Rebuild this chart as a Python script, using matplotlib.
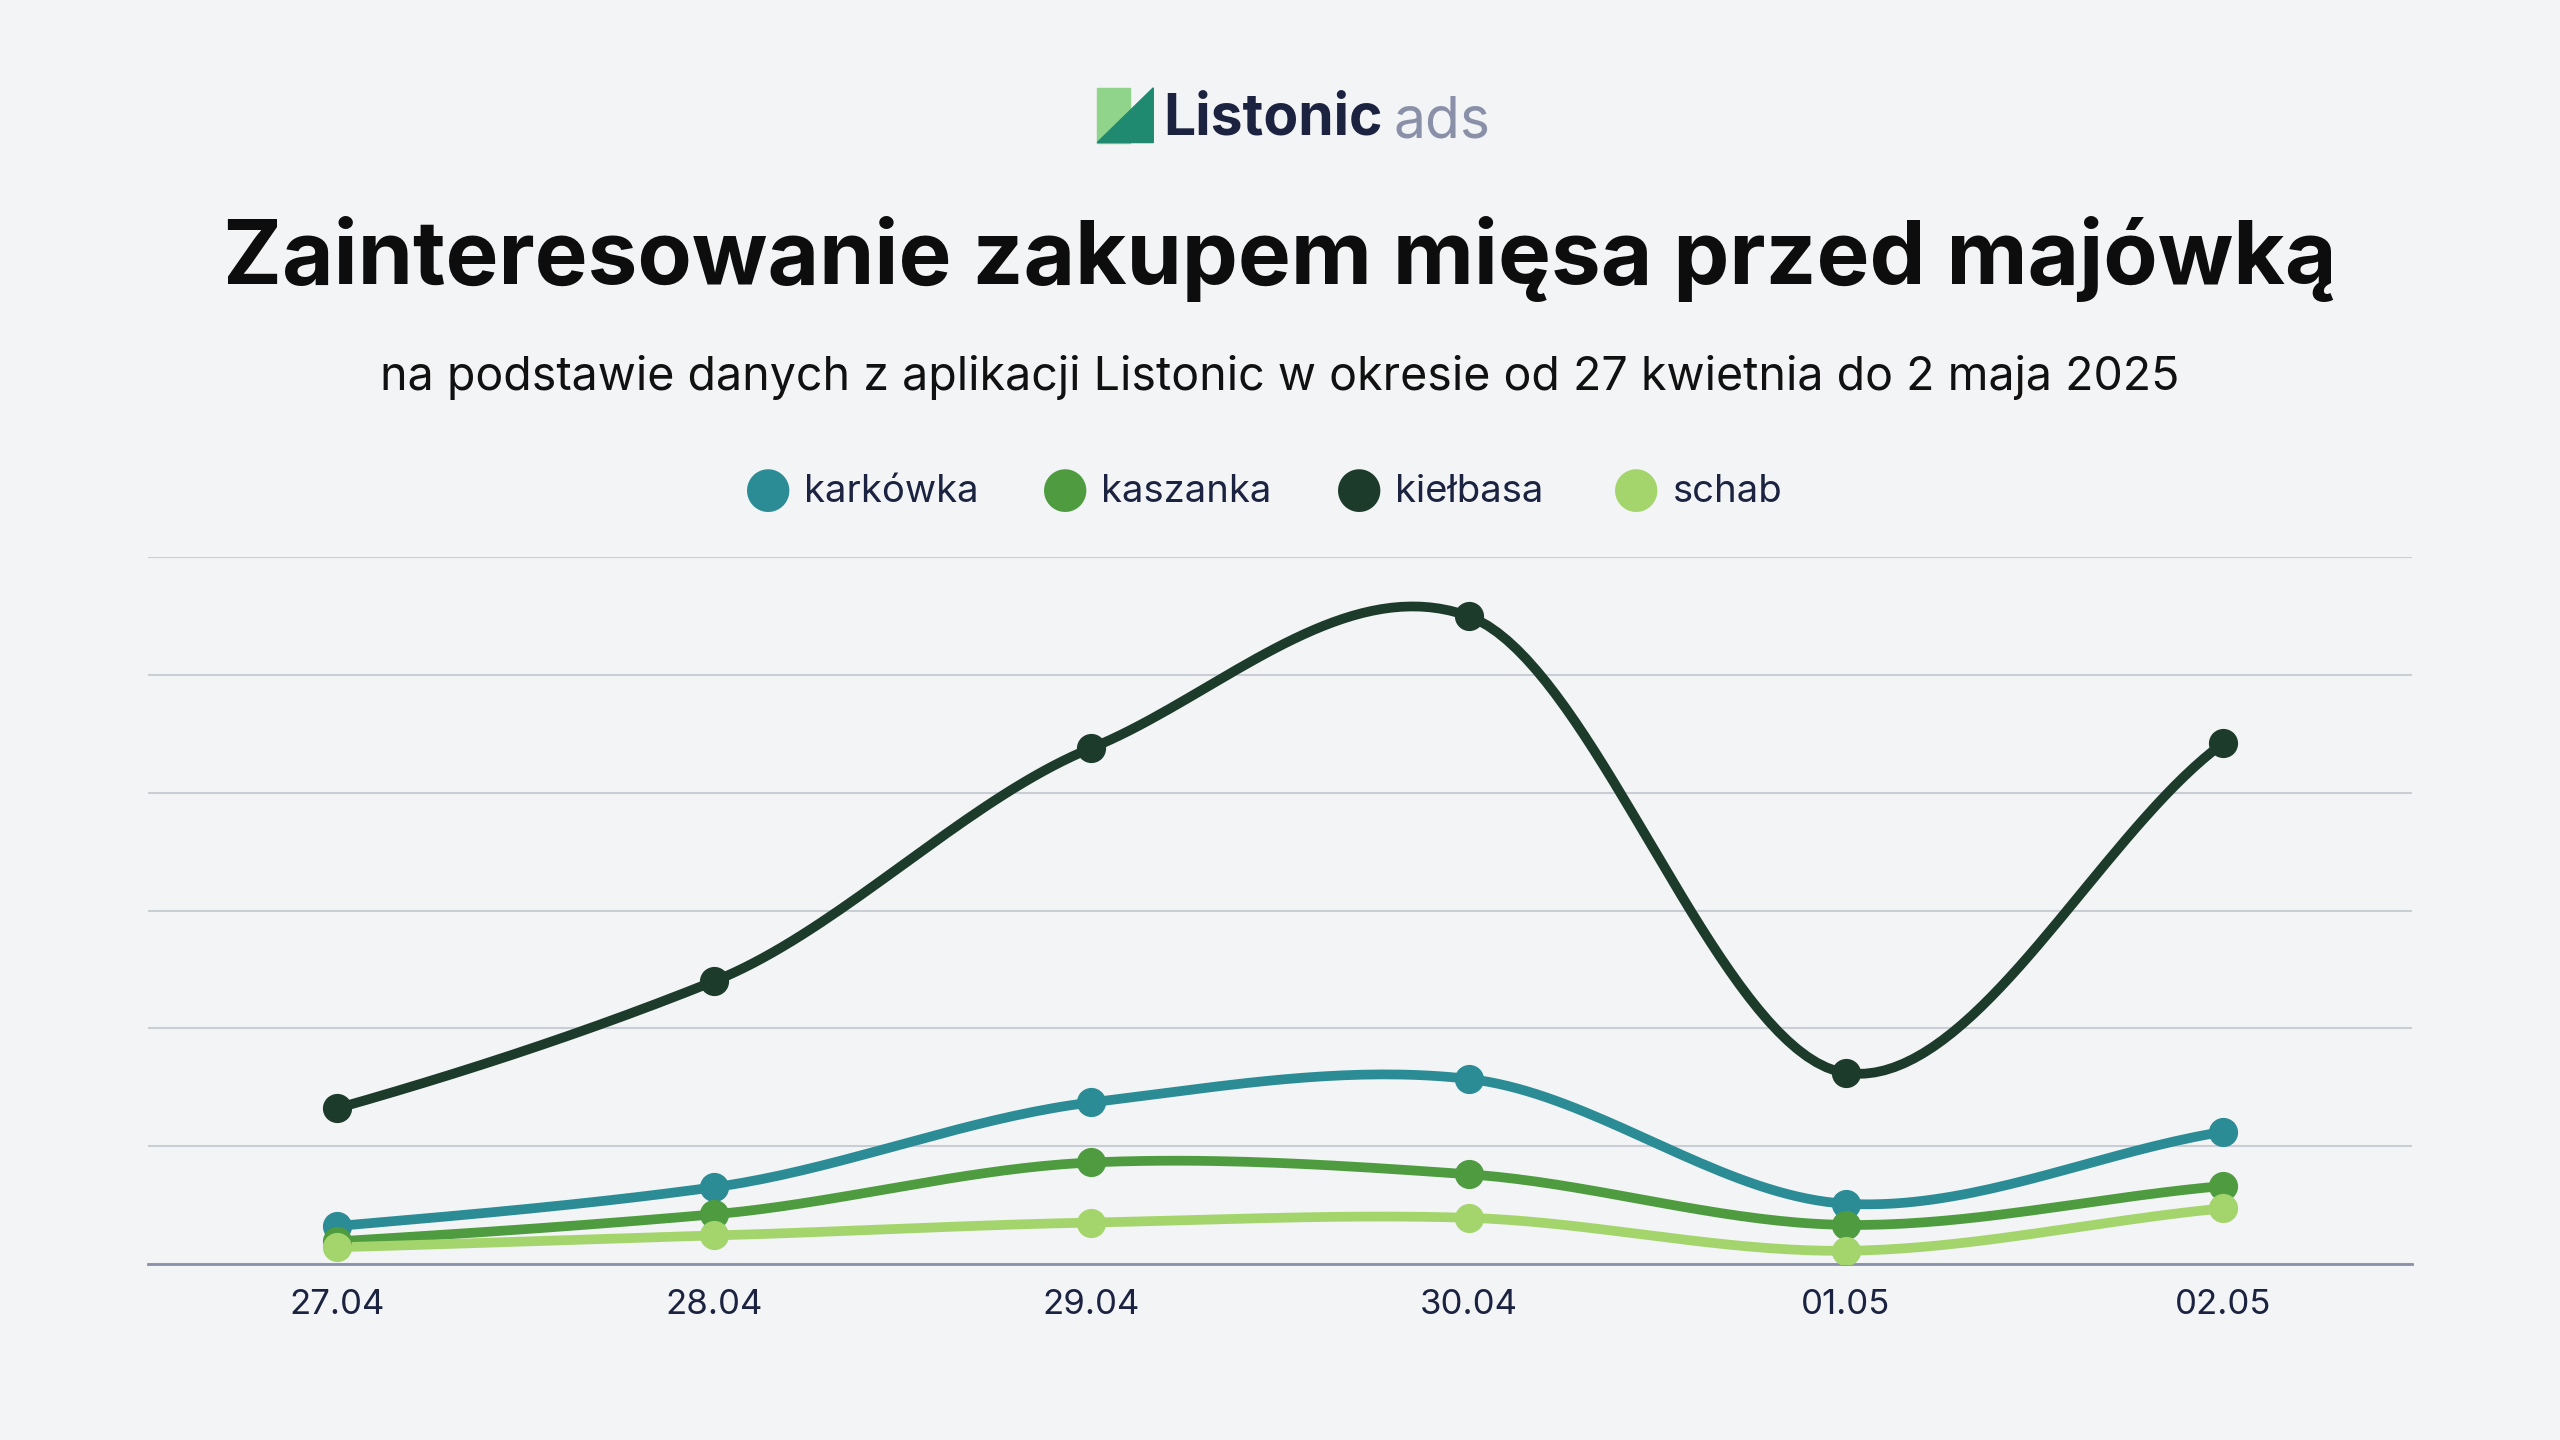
import numpy as np
import matplotlib.pyplot as plt
from matplotlib.patches import Polygon

dates = ["27.04", "28.04", "29.04", "30.04", "01.05", "02.05"]
karkowka = [0.32, 0.65, 1.37, 1.57, 0.51, 1.12]
kaszanka = [0.19, 0.42, 0.86, 0.76, 0.33, 0.66]
kielbasa = [1.32, 2.40, 4.38, 5.50, 1.62, 4.42]
schab = [0.14, 0.24, 0.35, 0.39, 0.11, 0.47]

series = [("karkówka", karkowka, "#2b8c95"),
          ("kaszanka", kaszanka, "#4e9c3f"),
          ("kiełbasa", kielbasa, "#1d3b2b"),
          ("schab", schab, "#a4d56c")]

bg = "#f2f4f6"
plt.rcParams['font.family'] = ['Inter', 'DejaVu Sans']


def smooth(y, n=40, k=0.42):
    # krzywa hermite'a przez punkty (napięcie k)
    y = np.asarray(y, float)
    p = np.concatenate([[2 * y[0] - y[1]], y, [2 * y[-1] - y[-2]]])
    m = k * (p[2:] - p[:-2])
    xs, ys = [], []
    for i in range(len(y) - 1):
        t = np.linspace(0, 1, n)
        h00 = 2 * t**3 - 3 * t**2 + 1
        h10 = t**3 - 2 * t**2 + t
        h01 = -2 * t**3 + 3 * t**2
        h11 = t**3 - t**2
        v = h00 * y[i] + h10 * m[i] + h01 * y[i + 1] + h11 * m[i + 1]
        xs.append(i + t)
        ys.append(v)
    return np.concatenate(xs), np.concatenate(ys)


fig = plt.figure(figsize=(25.6, 14.4), dpi=100, facecolor=bg)
ax = fig.add_axes([0.058, 0.1224, 0.884, 0.4906], facecolor=bg)
x = np.arange(len(dates))
for name, vals, col in series:
    sx, sy = smooth(vals)
    ax.plot(sx, sy, color=col, lw=7, solid_capstyle='round', zorder=3)
    ax.scatter(x, vals, s=400, color=col, zorder=4)
ax.set_xlim(-0.5, 5.5)
ax.set_ylim(0, 6)
ax.set_yticks(range(7))
ax.set_yticklabels([])
ax.tick_params(axis='y', length=0)
ax.grid(axis='y', color='#c9ced4', lw=1.5)
ax.set_xticks(x)
ax.set_xticklabels(dates, fontsize=25, color='#1b2340')
ax.tick_params(axis='x', length=0, pad=18)
for s in ['top', 'right', 'left']:
    ax.spines[s].set_visible(False)
ax.spines['bottom'].set_color('#8a90a8')
ax.spines['bottom'].set_linewidth(2)

# legenda
lx = [0.300, 0.416, 0.531, 0.639]
for (name, vals, col), px in zip(series, lx):
    fig.text(px, 0.66, "●", color=col, fontsize=40, ha='center', va='center',
             family='DejaVu Sans')
    fig.text(px + 0.014, 0.658, name, color='#1b2340', fontsize=27.5, va='center')

fig.text(0.5, 0.82, "Zainteresowanie zakupem mięsa przed majówką",
         ha='center', va='center', fontsize=64, weight='bold', color='#0d0d0d')
fig.text(0.5, 0.738, "na podstawie danych z aplikacji Listonic w okresie od 27 kwietnia do 2 maja 2025",
         ha='center', va='center', fontsize=33.5, color='#111111')

# logo
fig.patches.append(Polygon([[0.4286, 0.901], [0.4286, 0.939], [0.4415, 0.939], [0.4415, 0.901]],
                           closed=True, transform=fig.transFigure, color='#8fd48a'))
fig.patches.append(Polygon([[0.4286, 0.901], [0.4505, 0.939], [0.4505, 0.901]],
                           closed=True, transform=fig.transFigure, color='#1f8a70'))
fig.text(0.4545, 0.917, "Listonic", fontsize=41, weight='bold', color='#1b2340', va='center')
fig.text(0.5445, 0.915, "ads", fontsize=41, color='#8a90a8', va='center')

fig.savefig("out.png", dpi=100, facecolor=bg)
